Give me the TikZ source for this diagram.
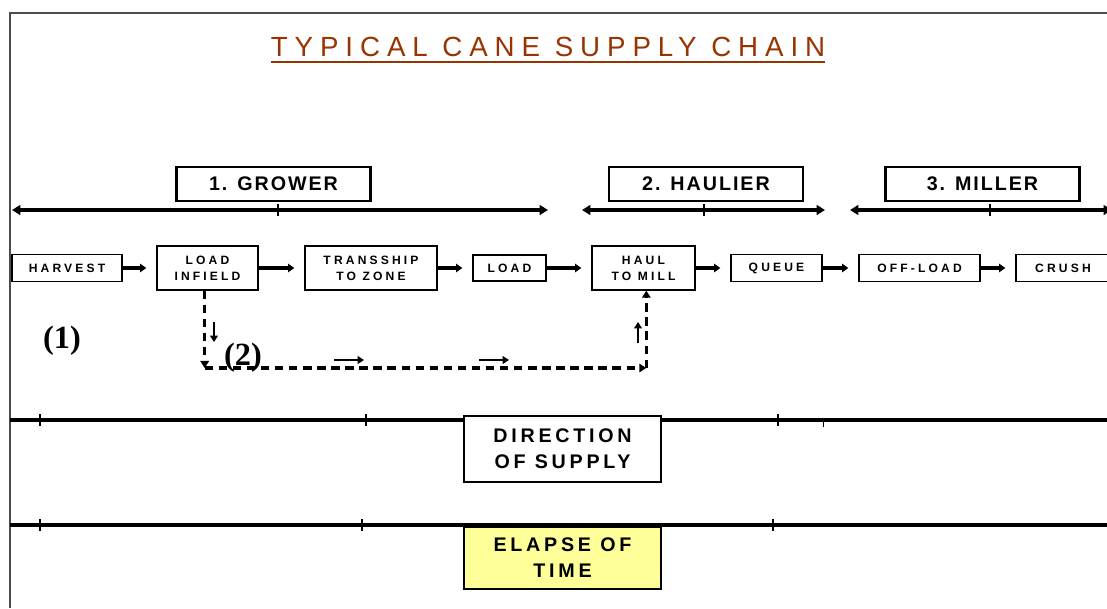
\documentclass[tikz,border=0pt]{standalone}
\usepackage{fontspec}
\setmainfont{Liberation Sans}
\newfontfamily\spacedfont[LetterSpace=25]{Liberation Sans}
\newfontfamily\bannerfont[LetterSpace=19]{Liberation Sans}
\newfontfamily\stepfont[LetterSpace=26]{Liberation Sans}
\newfontfamily\labelfont[LetterSpace=10]{Liberation Sans}
\newfontfamily\numfont{Liberation Serif}
\usepackage{tikz}
\usetikzlibrary{positioning, arrows.meta}
\definecolor{titlebrown}{HTML}{993300}
\definecolor{paleyellow}{HTML}{FFFF99}

\begin{document}
\begin{tikzpicture}[auto, x=0.025cm, y=-0.025cm]
		\tikzstyle{process} = [rectangle, draw=black, line width=0.9pt, align=center, inner sep=0pt, minimum height=0.675cm, font=\stepfont\bfseries\fontsize{8.6}{11.5}\selectfont];
		\tikzstyle{party} = [rectangle, draw=black, line width=2pt, inner sep=0pt, minimum width=4.85cm, minimum height=0.85cm, font=\labelfont\bfseries\fontsize{14}{16}\selectfont];
		\tikzstyle{banner} = [rectangle, draw=black, line width=2pt, align=center, inner sep=0pt, minimum width=4.925cm, fill=white, font=\bannerfont\bfseries\fontsize{14}{18.5}\selectfont];
		\tikzstyle{flow} = [draw=black, line width=2.4pt, -{Triangle[length=4.5pt,width=6pt]}, shorten >=0.25cm];
		\tikzstyle{span} = [draw=black, line width=3.2pt, {Triangle[length=6pt,width=7pt]}-{Triangle[length=6pt,width=7pt]}];
		\tikzstyle{detour} = [draw=black, line width=2.5pt, dash pattern=on 6pt off 4pt, -{Triangle[length=5pt,width=6pt]}];
		\tikzstyle{hint} = [draw=black, line width=2pt, -{Triangle[length=4.5pt,width=5.5pt]}];
		\tikzstyle{timeline} = [draw=black, line width=3pt];
		\tikzstyle{tick} = [draw=black, line width=1.3pt];
		
		\useasboundingbox (0,0) rectangle (1107,608);
		\draw[black!70, line width=1.2pt] (1107,13) -- (10,13) -- (10,608);
		
		% title
		\node[text=titlebrown, inner sep=0pt, font=\spacedfont\fontsize{19.7}{22}\selectfont] (title) at (548,46.5) {TYPICAL CANE SUPPLY CHAIN};
		\draw[titlebrown, line width=1.4pt] ([yshift=-4pt]title.south west) -- ([yshift=-4pt]title.south east);
		
		% who does what
		\node[party] (grower) at (273.5,184) {1. GROWER};
		\node[party] (haulier) at (706,184) {2. HAULIER};
		\node[party] (miller) at (982.5,184) {3. MILLER};
		
		\coordinate (grower start) at (12,210);
		\coordinate (grower end) at (548,210);
		\coordinate (haulier start) at (582,210);
		\coordinate (haulier end) at (825,210);
		\coordinate (miller start) at (850,210);
		\coordinate (miller end) at (1112,210);
		\draw[span] (grower start) -- (grower end);
		\draw[span] (haulier start) -- (haulier end);
		\draw[span] (miller start) -- (miller end);
		\foreach \x in {278,704,990}
			\draw[tick] (\x,204) -- (\x,216);
		
		% process steps
		\node[process, minimum width=2.75cm] (harvest) at (67,268) {HARVEST};
		\node[process, minimum width=2.525cm, minimum height=1.1cm] (load infield) at (207.5,268) {LOAD\\INFIELD};
		\node[process, minimum width=3.3cm, minimum height=1.1cm] (transship) at (371,268) {TRANSSHIP\\TO ZONE};
		\node[process, minimum width=1.825cm, minimum height=0.65cm] (load) at (509.5,268) {LOAD};
		\node[process, minimum width=2.575cm, minimum height=1.1cm] (haul) at (643.5,268) {HAUL\\TO MILL};
		\node[process, minimum width=2.275cm] (queue) at (776.5,268) {QUEUE};
		\node[process, minimum width=3.025cm] (offload) at (919.5,268) {OFF-LOAD};
		\node[process, minimum width=2.35cm] (crush) at (1063,268) {CRUSH};
		
		\path[flow] (harvest) edge (load infield)
		(load infield) edge (transship)
		(transship) edge (load)
		(load) edge (haul)
		(haul) edge (queue)
		(queue) edge (offload)
		(offload) edge (crush);
		
		% direct haul from infield
		\coordinate (dash level) at (0,368);
		\coordinate (detour left) at ([xshift=-2pt]load infield.south |- dash level);
		\coordinate (detour right) at ([xshift=2pt]haul.south |- dash level);
		\draw[detour] ([xshift=-2pt]load infield.south) -- (detour left);
		\draw[detour] (detour left) -- (detour right);
		\draw[detour] (detour right) -- ([xshift=2pt]haul.south);
		\draw[hint] (214,322) -- (214,342);
		\draw[hint] (334,360) -- (364,360);
		\draw[hint] (479,360) -- (509,360);
		\draw[hint] (638,343) -- (638,322);
		
		\node[font=\numfont\bfseries\fontsize{23}{25}\selectfont] (one) at (62,341) {(1)};
		\node[font=\numfont\bfseries\fontsize{23}{25}\selectfont] (two) at (243,358) {(2)};
		
		% supply and time
		\coordinate (supply start) at (10,420);
		\coordinate (supply end) at (1107,420);
		\draw[timeline] (supply start) -- (supply end);
		\foreach \x in {40,366,778}
			\draw[tick] (\x,414) -- (\x,426);
		\draw[black, line width=0.5pt] (823,420) -- (823,427);
		\node[banner, minimum height=1.65cm] (supply) at (562.5,449) {DIRECTION\\OF SUPPLY};
		
		\coordinate (time start) at (10,525);
		\coordinate (time end) at (1107,525);
		\draw[timeline] (time start) -- (time end);
		\foreach \x in {40,362,773}
			\draw[tick] (\x,519) -- (\x,531);
		\node[banner, fill=paleyellow, minimum height=1.55cm] (elapse) at (562.5,558) {ELAPSE OF\\TIME};
		\end{tikzpicture}
\end{document}
